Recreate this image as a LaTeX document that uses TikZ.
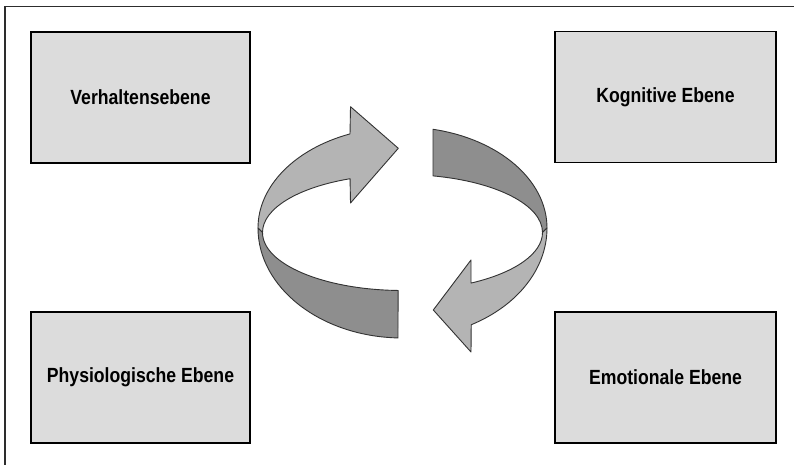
\documentclass[tikz,border=0pt]{standalone}
\usepackage{fontspec}
\newfontfamily\boxfont{Liberation Sans}[FakeStretch=0.86]
\usetikzlibrary{calc}
\definecolor{boxgray}{RGB}{220,220,220}
\definecolor{lightband}{RGB}{180,180,180}
\definecolor{darkband}{RGB}{142,142,142}
\definecolor{edgegray}{RGB}{50,50,50}
\definecolor{framegray}{RGB}{45,45,45}
\tikzset{
  levelbox/.style={draw=black, line width=1.8pt, fill=boxgray,
    minimum height=131pt, inner sep=0pt,
    font=\boxfont\bfseries\fontsize{20.5}{24}\selectfont},
  band/.style={draw=edgegray, line width=0.9pt, line join=round},
  frameline/.style={draw=framegray, line width=1.3pt}
}
\begin{document}
\begin{tikzpicture}[x=1pt,y=1pt]
  \useasboundingbox (0,0) rectangle (794,465);
  \fill[white] (0,0) rectangle (794,465);

  % open frame: top and left rule
  \draw[frameline] (5,0) -- (5,458.5) -- (794,458.5);

  % the four levels
  \node[levelbox, minimum width=219pt] (verhalten) at (140.5,367.5) {Verhaltensebene};
  \node[levelbox, minimum width=221pt] (kognitiv)  at (665.5,368)   {Kognitive Ebene};
  \node[levelbox, minimum width=219pt] (physio)    at (140.5,87.5)  {Physiologische Ebene};
  \node[levelbox, minimum width=221pt] (emotion)   at (665.5,87.5)  {Emotionale Ebene};

  % centres of the outer rim and the inner rim of the ring
  \coordinate (O) at (402.5,237);
  \coordinate (I) at (402.5,232.5);

  % back half of the ring: light band with arrow head pointing right
  \draw[band, fill=lightband]
    ($(O)+(111.3:144.5 and 101)$)
      arc[start angle=111.3, end angle=180, x radius=144.5, y radius=101]
    -- ($(I)+(180:140 and 58)$)
      arc[start angle=180, end angle=112, x radius=140, y radius=58]
    -- (350.5,262) -- (398.3,316.7) -- (350.5,358.3) -- cycle;

  % back half of the ring: dark band on the right
  \draw[band, fill=darkband]
    ($(O)+(77.8:144.5 and 101)$)
      arc[start angle=77.8, end angle=0, x radius=144.5, y radius=101]
    -- ($(I)+(0:140 and 58)$)
      arc[start angle=0, end angle=77.4, x radius=140, y radius=58]
    -- cycle;

  % front half of the ring: light band with arrow head pointing left
  \draw[band, fill=lightband]
    ($(O)+(0:144.5 and 110)$)
      arc[start angle=0, end angle=-61.6, x radius=144.5, y radius=110]
    -- (471,113) -- (433.3,155) -- (471,205)
    -- ($(I)+(-60.7:140 and 58)$)
      arc[start angle=-60.7, end angle=0, x radius=140, y radius=58]
    -- cycle;

  % front half of the ring: dark band on the left
  \draw[band, fill=darkband]
    ($(O)+(180:144.5 and 110)$)
      arc[start angle=180, end angle=268.2, x radius=144.5, y radius=110]
    -- ($(I)+(268.2:140 and 58)$)
      arc[start angle=268.2, end angle=180, x radius=140, y radius=58]
    -- cycle;
\end{tikzpicture}
\end{document}
